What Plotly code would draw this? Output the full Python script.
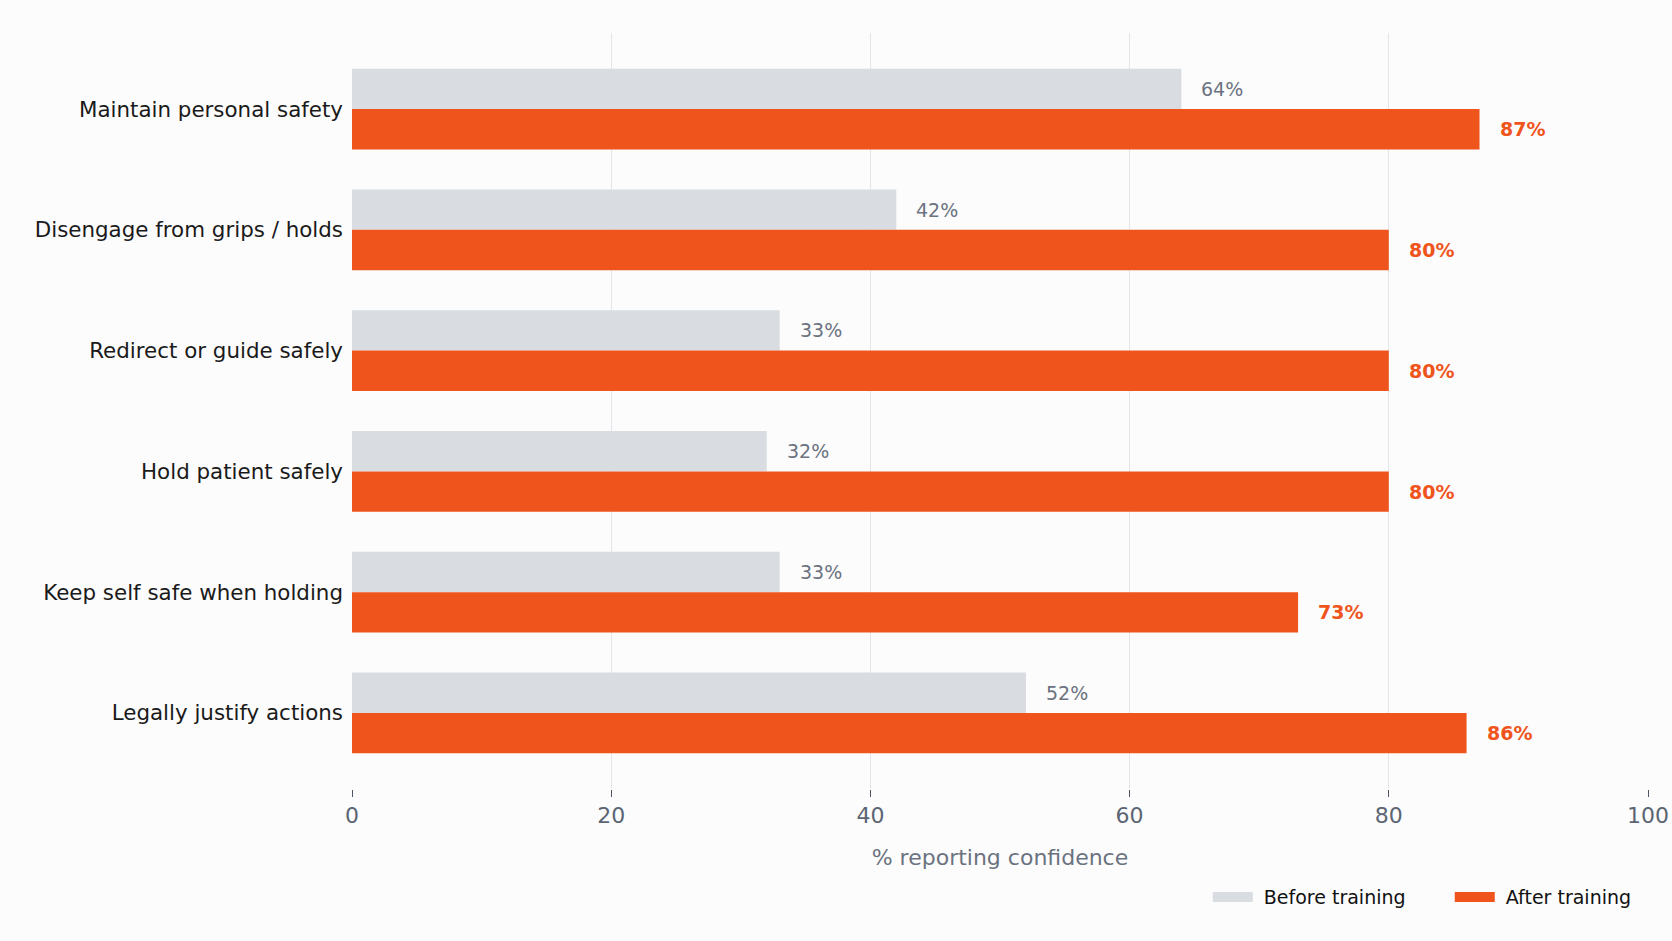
import plotly.graph_objects as go

categories = [
    "Maintain personal safety",
    "Disengage from grips / holds",
    "Redirect or guide safely",
    "Hold patient safely",
    "Keep self safe when holding",
    "Legally justify actions",
]
before = [64, 42, 33, 32, 33, 52]
after = [87, 80, 80, 80, 73, 86]

GRAY = "#d9dce0"
ORANGE = "#ef541c"
FONT = "DejaVu Sans"

fig = go.Figure()
fig.add_trace(go.Bar(y=categories, x=before, orientation="h", name="Before training",
                     marker=dict(color=GRAY, line=dict(width=0)), showlegend=False))
fig.add_trace(go.Bar(y=categories, x=after, orientation="h", name="After training",
                     marker=dict(color=ORANGE, line=dict(width=0)), showlegend=False))
# legend entries drawn as thick line swatches
fig.add_trace(go.Scatter(x=[None], y=[None], mode="lines", name="\u00a0Before training",
                         line=dict(color=GRAY, width=15)))
fig.add_trace(go.Scatter(x=[None], y=[None], mode="lines", name="\u00a0After training",
                         line=dict(color=ORANGE, width=15)))

bargap = 0.33
half = (1 - bargap) / 4
annotations = []
for i, (b, a) in enumerate(zip(before, after)):
    annotations.append(dict(x=b, y=i - half, xref="x", yref="y", text=f"{b}%",
                            showarrow=False, xanchor="left", xshift=18,
                            font=dict(family=FONT, size=19, color="#6b7280")))
    annotations.append(dict(x=a, y=i + half, xref="x", yref="y", text=f"<b>{a}%</b>",
                            showarrow=False, xanchor="left", xshift=18,
                            font=dict(family=FONT, size=19, color=ORANGE)))

fig.update_layout(
    width=1672, height=941,
    barmode="group", bargap=bargap, bargroupgap=0,
    paper_bgcolor="#fcfcfc", plot_bgcolor="#fcfcfc",
    margin=dict(l=352, r=24, t=33, b=152, autoexpand=False),
    font=dict(family=FONT, size=21.4, color="#1a1a1a"),
    annotations=annotations,
    legend=dict(orientation="h", x=0.6603, xanchor="left", y=-0.118, yanchor="top",
                font=dict(family=FONT, size=19, color="#111111"),
                itemwidth=40, entrywidth=187, entrywidthmode="pixels",
                bgcolor="rgba(0,0,0,0)", traceorder="normal"),
    xaxis=dict(range=[0, 100], tickvals=[0, 20, 40, 60, 80, 100], automargin=False,
               showgrid=True, gridcolor="#e3e5e8", gridwidth=1,
               zeroline=False, showline=False,
               ticks="outside", ticklen=7, tickcolor="#4b5563",
               tickfont=dict(family=FONT, size=22, color="#5b6573"),
               title=dict(text="% reporting confidence", standoff=22,
                          font=dict(family=FONT, size=22, color="#6b7280"))),
    yaxis=dict(type="category", range=[5.63, -0.63], showgrid=False, automargin=False,
               zeroline=False, showline=False, ticks="", ticklabelstandoff=8,
               tickfont=dict(family=FONT, size=21.4, color="#1a1a1a")),
)

fig.write_html("out.html")
